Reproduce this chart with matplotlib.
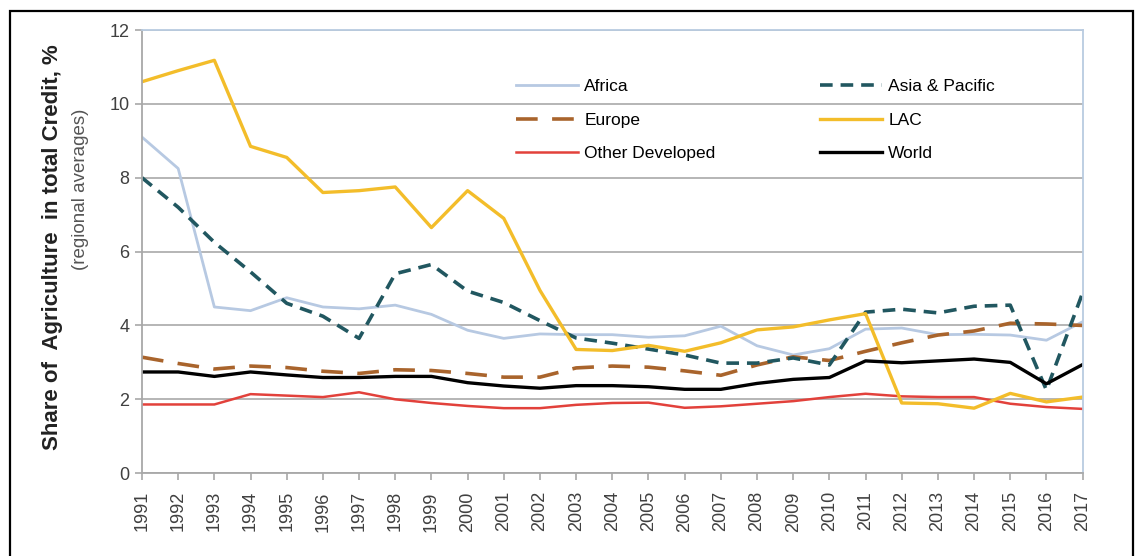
import matplotlib
matplotlib.use("Agg")
import matplotlib.pyplot as plt
from matplotlib.patches import Rectangle

plt.rcParams['font.family'] = ['Liberation Sans', 'DejaVu Sans']

# Data
years = list(range(1991, 2018))
africa = [9.1, 8.25, 4.5, 4.4, 4.75, 4.5, 4.45, 4.55, 4.3, 3.87, 3.65, 3.77, 3.75,
          3.75, 3.68, 3.72, 3.98, 3.45, 3.2, 3.37, 3.9, 3.93, 3.75, 3.76, 3.74, 3.6, 4.1]
asia = [8.0, 7.2, 6.25, 5.45, 4.6, 4.25, 3.65, 5.4, 5.65, 4.93, 4.62, 4.13, 3.66,
        3.52, 3.36, 3.2, 2.98, 2.98, 3.12, 2.93, 4.36, 4.44, 4.34, 4.52, 4.55, 2.25, 4.88]
europe = [3.14, 2.97, 2.82, 2.9, 2.86, 2.76, 2.7, 2.8, 2.78, 2.7, 2.6, 2.6, 2.85,
          2.9, 2.87, 2.77, 2.65, 2.93, 3.15, 3.05, 3.3, 3.53, 3.74, 3.85, 4.06, 4.04, 4.0]
lac = [10.6, 10.9, 11.18, 8.85, 8.55, 7.6, 7.65, 7.75, 6.65, 7.65, 6.9, 4.95, 3.35,
       3.32, 3.46, 3.3, 3.53, 3.88, 3.96, 4.15, 4.32, 1.9, 1.88, 1.76, 2.16, 1.93, 2.06]
other_dev = [1.86, 1.86, 1.86, 2.14, 2.1, 2.06, 2.19, 2.0, 1.9, 1.82, 1.76, 1.76, 1.85,
             1.9, 1.91, 1.77, 1.81, 1.88, 1.95, 2.06, 2.15, 2.08, 2.06, 2.06, 1.88, 1.79, 1.74]
world = [2.74, 2.74, 2.62, 2.74, 2.66, 2.59, 2.59, 2.62, 2.62, 2.45, 2.36, 2.3, 2.37,
         2.37, 2.34, 2.27, 2.27, 2.43, 2.54, 2.59, 3.04, 2.99, 3.04, 3.09, 3.0, 2.42, 2.94]

fig = plt.figure(figsize=(11.36, 5.56), dpi=100)
ax = fig.add_axes([0.125, 0.149, 0.828, 0.797])

# outer frame
fig.patches.append(Rectangle((10 / 1136, -0.05), 1123 / 1136, 1.05 - 11 / 556,
                             transform=fig.transFigure, fill=False,
                             edgecolor='black', linewidth=1.6, clip_on=False))

ax.plot(years, africa, color='#b7c9e2', lw=2.0, label='Africa')
ax.plot(years, europe, color='#a9642c', lw=2.6, dashes=(6, 4), label='Europe')
ax.plot(years, other_dev, color='#e2413b', lw=1.8, label='Other Developed')
ax.plot(years, asia, color='#215760', lw=2.6, dashes=(3.5, 2.2), label='Asia & Pacific')
ax.plot(years, lac, color='#f3bd2a', lw=2.4, label='LAC')
ax.plot(years, world, color='black', lw=2.4, label='World')

ax.set_xlim(1991, 2017)
ax.set_ylim(0, 12)
ax.set_yticks(range(0, 13, 2))
ax.set_xticks(years)
ax.set_xticklabels([str(y) for y in years], rotation=90)
ax.grid(axis='y', color='#b0b0b0', lw=1.3)
ax.set_axisbelow(True)

for side in ['left', 'bottom']:
    ax.spines[side].set_color('#a8a8a8')
    ax.spines[side].set_linewidth(1.3)
for side in ['top', 'right']:
    ax.spines[side].set_color('#b9cbe0')
    ax.spines[side].set_linewidth(1.3)

ax.tick_params(axis='both', direction='out', length=5, color='#a8a8a8',
               width=1.2, labelsize=13, labelcolor='#404040', pad=4)
ax.tick_params(axis='x', pad=8)

fig.text(0.046, 0.556, 'Share of  Agriculture  in total Credit, %', rotation=90,
         ha='center', va='center', fontsize=16, fontweight='bold', color='#222222')
fig.text(0.071, 0.66, '(regional averages)', rotation=90,
         ha='center', va='center', fontsize=13.5, color='#555555')

ax.legend(loc='upper left', bbox_to_anchor=(0.39, 0.905), ncol=2, frameon=False,
          fontsize=12.5, handlelength=3.6, handletextpad=0.35, labelspacing=1.05,
          columnspacing=6.0, borderaxespad=0)

fig.savefig('out.png', dpi=100)
